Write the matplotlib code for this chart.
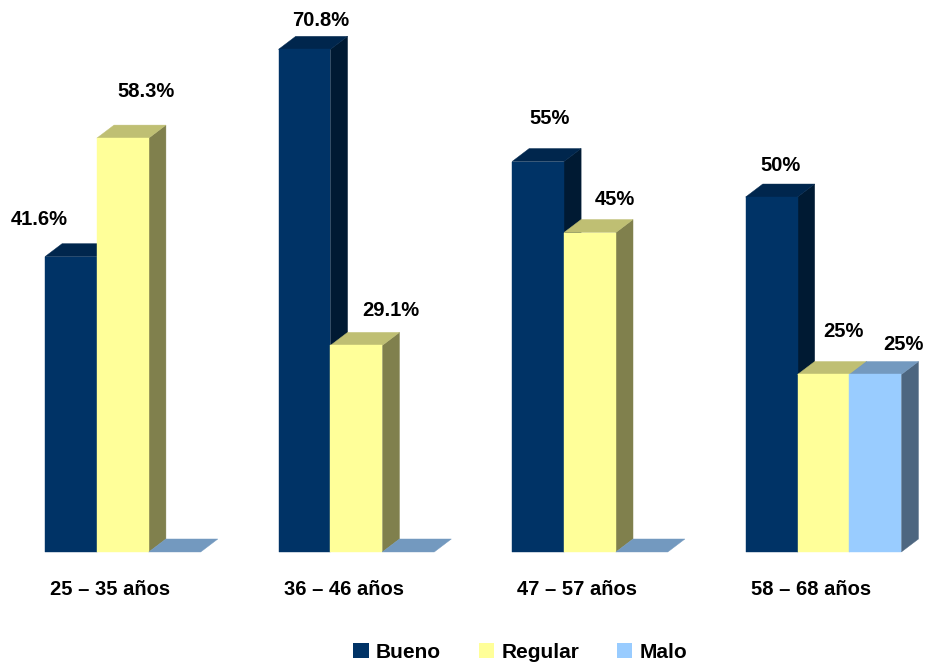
import matplotlib
matplotlib.use('Agg')
import numpy as np
from matplotlib import pyplot as plt
from matplotlib.patches import Polygon, Patch

plt.rcParams['font.family'] = ['Liberation Sans', 'DejaVu Sans']

# data
groups = ['25 – 35 años', '36 – 46 años', '47 – 57 años', '58 – 68 años']
series = ['Bueno', 'Regular', 'Malo']
bueno = [41.6, 70.8, 55, 50]
regular = [58.3, 29.1, 45, 25]
malo = [0, 0, 0, 25]
labels = [['41.6%', '58.3%', None],
          ['70.8%', '29.1%', None],
          ['55%', '45%', None],
          ['50%', '25%', '25%']]

# label offsets in pixels from the top-front centre of each bar
label_offsets = [[(-32, 37), (23, 47), None],
                 [(16, 29), (34, 35), None],
                 [(12, 43), (25, 33), None],
                 [(9, 32), (20, 43), (28, 30)]]

# front, top, side shades per series
colors = {
    'Bueno':   ('#003366', '#00264d', '#001a33'),
    'Regular': ('#ffff99', '#bfbf73', '#80804d'),
    'Malo':    ('#99ccff', '#7399bf', '#4d6680'),
}

values = np.array([bueno, regular, malo]).T

W = 1.0          # bar width
GROUP = 4.5      # group pitch
DX, DY = 0.33, 1.83   # depth offset
FS = 14.5

fig = plt.figure(figsize=(9.25, 6.66), dpi=100)
ax = fig.add_axes([0, 0, 1, 1])
ax.set_xlim(-0.867, 16.956)
ax.set_ylim(-16.06, 77.75)
ax.axis('off')


def face(ax, pts, c):
    ax.add_patch(Polygon(pts, closed=True, fc=c, ec=c, lw=0.3))


def bar3d(ax, x0, h, name):
    front, top, side = colors[name]
    x1 = x0 + W
    # side face, then top, then front
    if h > 0:
        face(ax, [(x1, 0), (x1 + DX, DY), (x1 + DX, h + DY), (x1, h)], side)
    face(ax, [(x0, h), (x1, h), (x1 + DX, h + DY), (x0 + DX, h + DY)], top)
    if h > 0:
        face(ax, [(x0, 0), (x1, 0), (x1, h), (x0, h)], front)


for i, g in enumerate(groups):
    gx = i * GROUP
    for j, name in enumerate(series):
        h = values[i, j]
        x0 = gx + j * W
        bar3d(ax, x0, h, name)
        if labels[i][j] is not None:
            ax.annotate(labels[i][j], xy=(x0 + W / 2, h),
                        xytext=label_offsets[i][j], textcoords='offset pixels',
                        ha='center', va='center', fontsize=FS, fontweight='bold')
    ax.text(gx + 0.1, -5.35, g, ha='left', va='center',
            fontsize=FS, fontweight='bold')

handles = [Patch(fc=colors[s][0], ec='none', label=s) for s in series]
fig.legend(handles=handles, loc='center left', bbox_to_anchor=(353 / 925, 0.021),
           ncol=3, frameon=False, prop={'weight': 'bold', 'size': 15},
           handlelength=0.75, handleheight=0.75, handletextpad=0.35,
           columnspacing=1.8, borderpad=0, borderaxespad=0)

plt.savefig('out.png', dpi=100)
plt.close(fig)
